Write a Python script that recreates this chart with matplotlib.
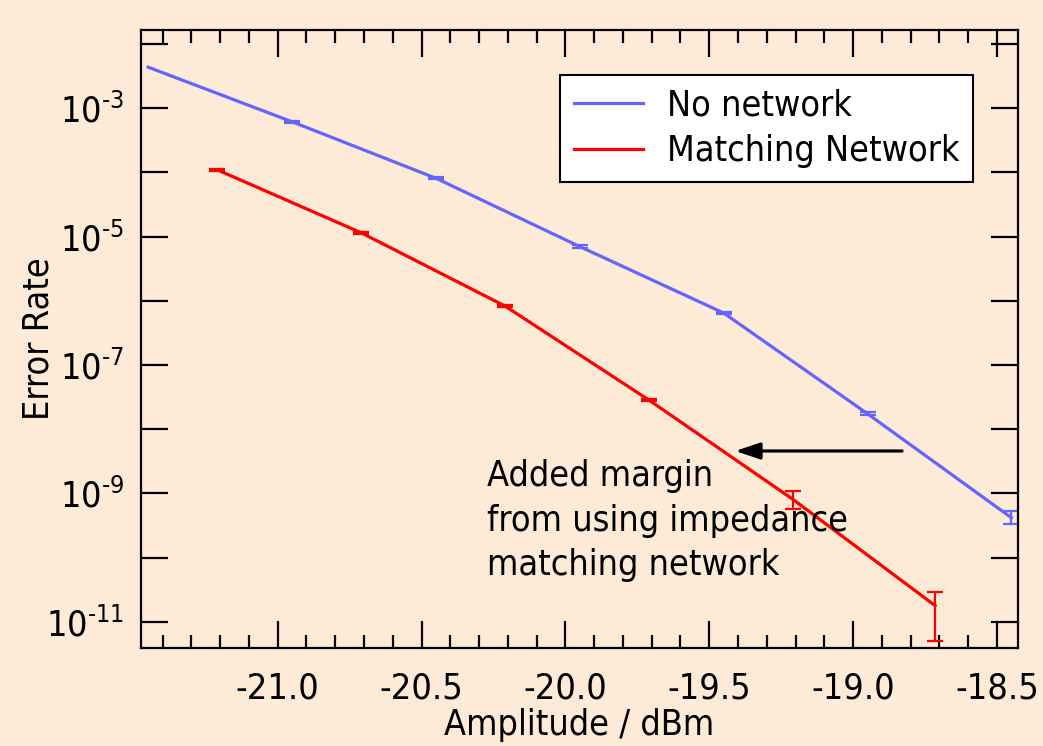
import matplotlib
matplotlib.use("Agg")
import matplotlib.pyplot as plt
from matplotlib.ticker import FixedLocator, MultipleLocator, FuncFormatter
from matplotlib.lines import Line2D
import numpy as np

# ---- data ----
x_no = [-21.45, -20.95, -20.45, -19.95, -19.45, -18.95, -18.45]
y_no = [4.37e-3, 6.17e-4, 8.13e-5, 7.0e-6, 6.46e-7, 1.74e-8, 4.17e-10]
y_no_lo = [4.37e-3, 5.9e-4, 7.8e-5, 6.7e-6, 6.2e-7, 1.66e-8, 3.3e-10]
y_no_hi = [4.37e-3, 6.45e-4, 8.5e-5, 7.3e-6, 6.75e-7, 1.82e-8, 5.25e-10]

x_mn = [-21.21, -20.71, -20.21, -19.71, -19.21, -18.715]
y_mn = [1.10e-4, 1.15e-5, 8.3e-7, 2.85e-8, 8.1e-10, 1.78e-11]
y_mn_lo = [1.05e-4, 1.10e-5, 7.9e-7, 2.72e-8, 5.6e-10, 5.0e-12]
y_mn_hi = [1.15e-4, 1.20e-5, 8.7e-7, 2.98e-8, 1.07e-9, 2.9e-11]

labels = ["No network", "Matching Network"]
xticks = [-21.0, -20.5, -20.0, -19.5, -19.0, -18.5]
ydecades = list(range(-11, -1))
annot_text = "Added margin\nfrom using impedance\nmatching network"

plt.rcParams['font.family'] = ['DejaVu Sans']
plt.rcParams['font.stretch'] = 'condensed'

bg = "#FDEBD8"
blue = "#6464FF"
red = "#FF0000"
fs = 25.8

fig = plt.figure(figsize=(10.43, 7.46), dpi=100, facecolor=bg)
ax = fig.add_axes([141/1043, 1-648/746, 877/1043, 618/746])
ax.set_facecolor(bg)

def err(y, lo, hi):
    y = np.array(y); return [y - np.array(lo), np.array(hi) - y]

ax.plot(x_no, y_no, color=blue, lw=2.3)
ax.errorbar(x_no[1:], y_no[1:], yerr=err(y_no[1:], y_no_lo[1:], y_no_hi[1:]), fmt="none",
            ecolor=blue, capsize=5.5, capthick=1.6, elinewidth=1.6)
ax.plot(x_mn, y_mn, color=red, lw=2.3)
ax.errorbar(x_mn, y_mn, yerr=err(y_mn, y_mn_lo, y_mn_hi), fmt="none",
            ecolor=red, capsize=5.5, capthick=1.6, elinewidth=1.6)

ax.set_yscale("log")
ax.set_xlim(-21.475, -18.427)
ax.set_ylim(10**-11.41, 10**-1.78)

ax.xaxis.set_major_locator(FixedLocator(xticks))
ax.xaxis.set_minor_locator(MultipleLocator(0.1))
ax.xaxis.set_major_formatter(FuncFormatter(lambda v, p: f"{v:.1f}"))
ax.yaxis.set_major_locator(FixedLocator([10.0**e for e in ydecades]))
ax.yaxis.set_minor_locator(FixedLocator([]))

def yfmt(v, p):
    e = int(round(np.log10(v)))
    if e % 2 == 0:
        return ""
    return r"$\mathregular{10^{\text{-}%d}}$" % (-e)
ax.yaxis.set_major_formatter(FuncFormatter(yfmt))

ax.tick_params(which="both", direction="in", top=True, right=True, width=1.6,
               colors="black", labelsize=fs)
ax.tick_params(which="major", length=19.4)
ax.tick_params(which="minor", length=9.4)
ax.tick_params(axis="x", pad=17)
ax.tick_params(axis="y", pad=12)
for s in ax.spines.values():
    s.set_linewidth(1.6)

ax.set_xlabel("Amplitude / dBm", fontsize=fs, labelpad=2)
ax.set_ylabel("Error Rate", fontsize=fs, labelpad=-7)

handles = [Line2D([], [], color=blue, lw=2.3), Line2D([], [], color=red, lw=2.3)]
leg = ax.legend(handles, labels, loc="upper left", bbox_to_anchor=(560/1043, 1-75/746),
                bbox_transform=fig.transFigure, fontsize=fs, frameon=True,
                fancybox=False, edgecolor="black", facecolor="white", framealpha=1,
                handlelength=1.95, handletextpad=0.65, labelspacing=0.32,
                borderpad=0.38, borderaxespad=0)
leg.get_frame().set_linewidth(1.5)

ax.annotate("", xy=(-19.41, 10**-8.34), xytext=(-18.83, 10**-8.34),
            arrowprops=dict(arrowstyle="-|>,head_length=1.5,head_width=0.5",
                            color="black", lw=2.3, shrinkA=0, shrinkB=0))
ax.text(-20.273, 10**-8.47, annot_text, fontsize=fs, va="top", ha="left",
        linespacing=1.39)

fig.savefig("out.png", dpi=100, facecolor=bg)
